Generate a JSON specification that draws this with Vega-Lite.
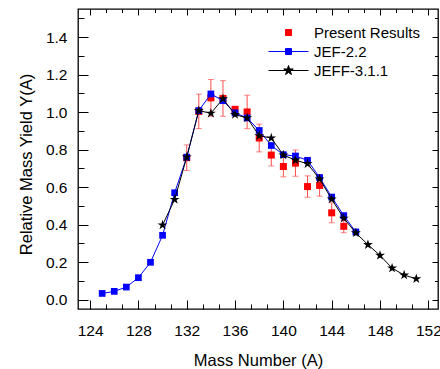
{
  "$schema": "https://vega.github.io/schema/vega-lite/v6.json",
  "autosize": "none",
  "width": 360,
  "height": 300,
  "padding": {"left": 78, "top": 9, "right": 2, "bottom": 60},
  "background": "white",
  "data": {"values": [
    {"series": "Present Results", "A": 132, "y": 0.757, "lo": 0.689, "hi": 0.825},
    {"series": "Present Results", "A": 133, "y": 1.004, "lo": 0.912, "hi": 1.096},
    {"series": "Present Results", "A": 134, "y": 1.076, "lo": 0.978, "hi": 1.174},
    {"series": "Present Results", "A": 135, "y": 1.073, "lo": 0.978, "hi": 1.168},
    {"series": "Present Results", "A": 136, "y": 1.015, "lo": 1.005, "hi": 1.025},
    {"series": "Present Results", "A": 137, "y": 1.001, "lo": 0.912, "hi": 1.090},
    {"series": "Present Results", "A": 138, "y": 0.862, "lo": 0.788, "hi": 0.936},
    {"series": "Present Results", "A": 139, "y": 0.771, "lo": 0.713, "hi": 0.829},
    {"series": "Present Results", "A": 140, "y": 0.710, "lo": 0.655, "hi": 0.765},
    {"series": "Present Results", "A": 141, "y": 0.728, "lo": 0.658, "hi": 0.798},
    {"series": "Present Results", "A": 142, "y": 0.603, "lo": 0.546, "hi": 0.660},
    {"series": "Present Results", "A": 143, "y": 0.609, "lo": 0.552, "hi": 0.666},
    {"series": "Present Results", "A": 144, "y": 0.463, "lo": 0.410, "hi": 0.516},
    {"series": "Present Results", "A": 145, "y": 0.391, "lo": 0.357, "hi": 0.425},
    {"series": "JEF-2.2", "A": 125, "y": 0.033},
    {"series": "JEF-2.2", "A": 126, "y": 0.044},
    {"series": "JEF-2.2", "A": 127, "y": 0.067},
    {"series": "JEF-2.2", "A": 128, "y": 0.117},
    {"series": "JEF-2.2", "A": 129, "y": 0.199},
    {"series": "JEF-2.2", "A": 130, "y": 0.343},
    {"series": "JEF-2.2", "A": 131, "y": 0.570},
    {"series": "JEF-2.2", "A": 132, "y": 0.760},
    {"series": "JEF-2.2", "A": 133, "y": 1.008},
    {"series": "JEF-2.2", "A": 134, "y": 1.097},
    {"series": "JEF-2.2", "A": 135, "y": 1.061},
    {"series": "JEF-2.2", "A": 136, "y": 0.996},
    {"series": "JEF-2.2", "A": 137, "y": 0.969},
    {"series": "JEF-2.2", "A": 138, "y": 0.902},
    {"series": "JEF-2.2", "A": 139, "y": 0.822},
    {"series": "JEF-2.2", "A": 140, "y": 0.773},
    {"series": "JEF-2.2", "A": 141, "y": 0.766},
    {"series": "JEF-2.2", "A": 142, "y": 0.743},
    {"series": "JEF-2.2", "A": 143, "y": 0.651},
    {"series": "JEF-2.2", "A": 144, "y": 0.547},
    {"series": "JEF-2.2", "A": 145, "y": 0.448},
    {"series": "JEF-2.2", "A": 146, "y": 0.361},
    {"series": "JEFF-3.1.1", "A": 130, "y": 0.398},
    {"series": "JEFF-3.1.1", "A": 131, "y": 0.534},
    {"series": "JEFF-3.1.1", "A": 132, "y": 0.760},
    {"series": "JEFF-3.1.1", "A": 133, "y": 1.008},
    {"series": "JEFF-3.1.1", "A": 134, "y": 0.994},
    {"series": "JEFF-3.1.1", "A": 135, "y": 1.071},
    {"series": "JEFF-3.1.1", "A": 136, "y": 0.987},
    {"series": "JEFF-3.1.1", "A": 137, "y": 0.969},
    {"series": "JEFF-3.1.1", "A": 138, "y": 0.874},
    {"series": "JEFF-3.1.1", "A": 139, "y": 0.862},
    {"series": "JEFF-3.1.1", "A": 140, "y": 0.771},
    {"series": "JEFF-3.1.1", "A": 141, "y": 0.744},
    {"series": "JEFF-3.1.1", "A": 142, "y": 0.725},
    {"series": "JEFF-3.1.1", "A": 143, "y": 0.643},
    {"series": "JEFF-3.1.1", "A": 144, "y": 0.536},
    {"series": "JEFF-3.1.1", "A": 145, "y": 0.434},
    {"series": "JEFF-3.1.1", "A": 146, "y": 0.356},
    {"series": "JEFF-3.1.1", "A": 147, "y": 0.293},
    {"series": "JEFF-3.1.1", "A": 148, "y": 0.236},
    {"series": "JEFF-3.1.1", "A": 149, "y": 0.168},
    {"series": "JEFF-3.1.1", "A": 150, "y": 0.131},
    {"series": "JEFF-3.1.1", "A": 151, "y": 0.111}
  ]},
  "resolve": {"axis": {"x": "independent", "y": "independent"}},
  "layer": [
    {
      "transform": [{"filter": "datum.series === 'Present Results'"}],
      "mark": {"type": "rule", "color": "#ff4d4d", "strokeWidth": 1},
      "encoding": {
        "x": {"field": "A", "type": "quantitative", "scale": {"domain": [123, 152.8], "nice": false, "zero": false},
          "axis": {"orient": "bottom", "values": [124, 128, 132, 136, 140, 144, 148, 152], "tickSize": -9, "labelPadding": 23, "title": "Mass Number (A)", "titleY": 56, "titleBaseline": "alphabetic", "titleAlign": "center"}},
        "y": {"field": "lo", "type": "quantitative", "scale": {"domain": [-0.05, 1.55], "nice": false, "zero": false},
          "axis": {"orient": "left", "values": [0, 0.2, 0.4, 0.6, 0.8, 1.0, 1.2, 1.4], "format": ".1f", "tickSize": -10, "labelPadding": 21, "title": "Relative Mass Yield Y(A)", "titleX": -46.5, "titleY": 155, "titleAngle": -90, "titleBaseline": "alphabetic", "titleAlign": "center"}},
        "y2": {"field": "hi"}
      }
    },
    {
      "transform": [{"filter": "datum.series === 'Present Results'"}],
      "mark": {"type": "tick", "orient": "horizontal", "color": "#ff4d4d", "size": 6, "thickness": 1},
      "encoding": {
        "x": {"field": "A", "type": "quantitative",
          "axis": {"orient": "bottom", "values": [125.333, 126.667, 129.333, 130.667, 133.333, 134.667, 137.333, 138.667, 141.333, 142.667, 145.333, 146.667, 149.333, 150.667], "tickSize": -5, "labels": false, "title": null}},
        "y": {"field": "lo", "type": "quantitative",
          "axis": {"orient": "left", "values": [0.1, 0.3, 0.5, 0.7, 0.9, 1.1, 1.3, 1.5], "tickSize": -6, "labels": false, "title": null}}
      }
    },
    {
      "transform": [{"filter": "datum.series === 'Present Results'"}],
      "mark": {"type": "tick", "orient": "horizontal", "color": "#ff4d4d", "size": 6, "thickness": 1},
      "encoding": {
        "x": {"field": "A", "type": "quantitative",
          "axis": {"orient": "top", "values": [124, 128, 132, 136, 140, 144, 148, 152], "tickSize": -6, "labels": false, "title": null}},
        "y": {"field": "hi", "type": "quantitative",
          "axis": {"orient": "right", "values": [0, 0.2, 0.4, 0.6, 0.8, 1.0, 1.2, 1.4], "tickSize": -6, "labels": false, "title": null}}
      }
    },
    {
      "transform": [{"filter": "datum.series === 'Present Results'"}],
      "mark": {"type": "point", "shape": "square", "filled": true, "color": "#ff0000", "size": 49, "opacity": 1},
      "encoding": {
        "x": {"field": "A", "type": "quantitative",
          "axis": {"orient": "top", "values": [125.333, 126.667, 129.333, 130.667, 133.333, 134.667, 137.333, 138.667, 141.333, 142.667, 145.333, 146.667, 149.333, 150.667], "tickSize": -3.5, "labels": false, "title": null}},
        "y": {"field": "y", "type": "quantitative",
          "axis": {"orient": "right", "values": [0.1, 0.3, 0.5, 0.7, 0.9, 1.1, 1.3, 1.5], "tickSize": -3.5, "labels": false, "title": null}}
      }
    },
    {
      "transform": [{"filter": "datum.series === 'JEF-2.2'"}],
      "mark": {"type": "line", "color": "#0000ff", "strokeWidth": 1},
      "encoding": {
        "x": {"field": "A", "type": "quantitative", "axis": null},
        "y": {"field": "y", "type": "quantitative", "axis": null}
      }
    },
    {
      "transform": [{"filter": "datum.series === 'JEF-2.2'"}],
      "mark": {"type": "point", "shape": "square", "filled": true, "color": "#0000ff", "size": 45, "opacity": 1},
      "encoding": {
        "x": {"field": "A", "type": "quantitative", "axis": null},
        "y": {"field": "y", "type": "quantitative", "axis": null}
      }
    },
    {
      "transform": [{"filter": "datum.series === 'JEFF-3.1.1'"}],
      "mark": {"type": "line", "color": "#000000", "strokeWidth": 1},
      "encoding": {
        "x": {"field": "A", "type": "quantitative", "axis": null},
        "y": {"field": "y", "type": "quantitative", "axis": null}
      }
    },
    {
      "transform": [{"filter": "datum.series === 'JEFF-3.1.1'"}],
      "mark": {"type": "point", "shape": "M0,-1L0.225,-0.309L0.951,-0.309L0.363,0.118L0.588,0.809L0,0.382L-0.588,0.809L-0.363,0.118L-0.951,-0.309L-0.225,-0.309Z", "filled": true, "color": "#000000", "size": 110, "opacity": 1},
      "encoding": {
        "x": {"field": "A", "type": "quantitative", "axis": null},
        "y": {"field": "y", "type": "quantitative", "axis": null}
      }
    },
    {
      "mark": {"type": "point", "opacity": 0, "strokeWidth": 1},
      "encoding": {
        "x": {"field": "A", "type": "quantitative", "axis": null},
        "y": {"field": "y", "type": "quantitative", "axis": null},
        "fill": {"field": "series", "type": "nominal", "scale": {"domain": ["Present Results", "JEF-2.2", "JEFF-3.1.1"], "range": ["#ff0000", "#0000ff", "#000000"]}, "legend": {"title": null, "symbolOpacity": 1}},
        "stroke": {"field": "series", "type": "nominal", "scale": {"domain": ["Present Results", "JEF-2.2", "JEFF-3.1.1"], "range": ["#ff0000", "#0000ff", "#000000"]}, "legend": {"title": null, "symbolOpacity": 1}},
        "shape": {"field": "series", "type": "nominal", "scale": {"domain": ["Present Results", "JEF-2.2", "JEFF-3.1.1"], "range": [
          "M-0.15,-0.15H0.15V0.15H-0.15Z",
          "M-1,0H1M-0.15,-0.15H0.15V0.15H-0.15Z",
          "M-1,0H1M0,-0.25L0.056,-0.077L0.238,-0.077L0.091,0.03L0.147,0.202L0,0.096L-0.147,0.202L-0.091,0.03L-0.238,-0.077L-0.056,-0.077Z"
        ]}, "legend": {"title": null, "symbolOpacity": 1}}
      }
    }
  ],
  "config": {
    "view": {"stroke": "#000000", "strokeWidth": 1.3},
    "font": "Liberation Sans",
    "axis": {"grid": false, "domain": false, "tickColor": "#000000", "tickWidth": 1, "labelColor": "#000000", "titleColor": "#000000", "labelFont": "Liberation Sans", "titleFont": "Liberation Sans", "titleFontWeight": "normal", "labelFontSize": 15.5, "titleFontSize": 16.5, "labelFlush": false, "labelOverlap": false},
    "legend": {"orient": "none", "legendX": 190, "legendY": 14, "padding": 0, "symbolSize": 1600, "symbolStrokeWidth": 1, "labelFontSize": 15, "labelFont": "Liberation Sans", "labelColor": "#000000", "labelOffset": 5, "clipHeight": 19, "rowPadding": 0, "symbolOpacity": 1}
  }
}
